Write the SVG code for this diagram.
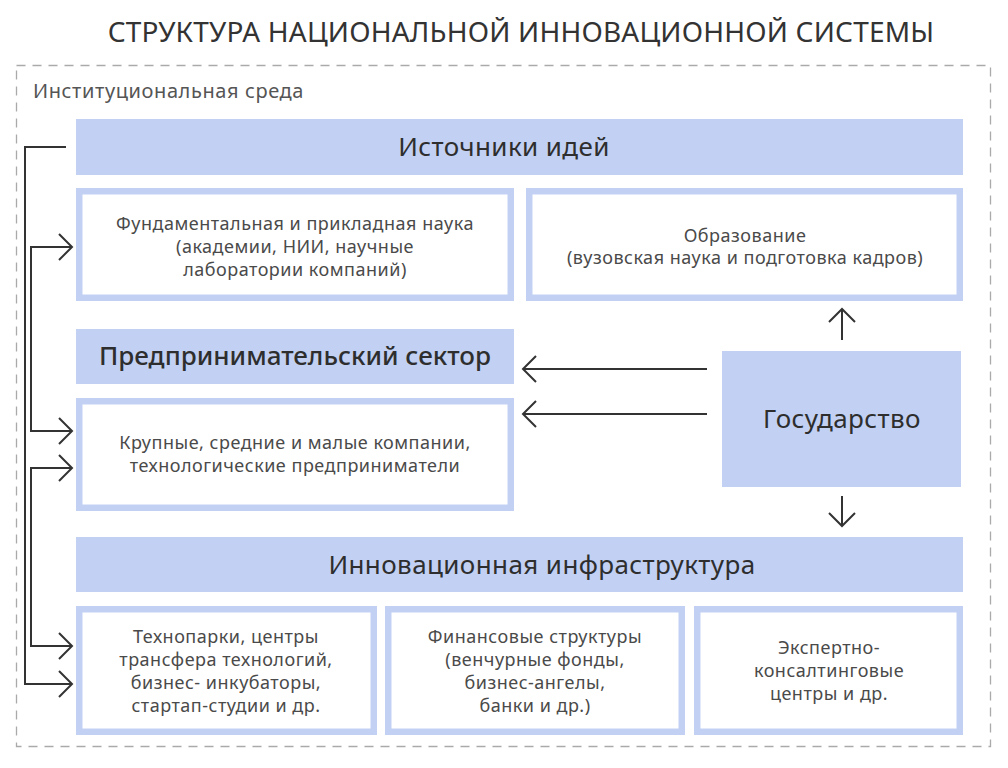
<svg xmlns="http://www.w3.org/2000/svg" width="1008" height="768" viewBox="0 0 1008 768">
<style>
text{font-family:"Noto Sans","Open Sans","Liberation Sans",sans-serif;fill:#333}
.t{font-size:28px;text-anchor:middle;letter-spacing:0.2px}
.h{font-size:26px;text-anchor:middle;fill:#2e2e2e;letter-spacing:0.4px}
.b{font-size:18px;text-anchor:middle;fill:#4a4a4a;letter-spacing:0.5px}
.env{font-size:20px;fill:#555;letter-spacing:0.6px}
.fill{fill:#c2d1f3}
.box{fill:#fff;stroke:#c2d1f3;stroke-width:6.5}
.ln{fill:none;stroke:#333;stroke-width:2}
</style>
<defs>
<marker id="ah" viewBox="0 0 16 30" refX="14" refY="15" markerWidth="16" markerHeight="30" markerUnits="userSpaceOnUse" orient="auto">
<path d="M1,2 L14,15 L1,28" fill="none" stroke="#333" stroke-width="2"/>
</marker>
</defs>
<rect width="1008" height="768" fill="#fff"/>
<text class="t" x="521" y="42">СТРУКТУРА НАЦИОНАЛЬНОЙ ИННОВАЦИОННОЙ СИСТЕМЫ</text>
<rect x="16.5" y="65.5" width="974" height="681" fill="none" stroke="#aaa" stroke-width="1.3" stroke-dasharray="9,7"/>
<text class="env" x="33" y="98">Институциональная среда</text>

<g id="ideas">
<rect class="fill" x="76" y="119" width="887" height="56"/>
<text class="h" x="504" y="156">Источники идей</text>
</g>
<g id="science">
<rect class="box" x="79.25" y="191.25" width="431.5" height="106.5"/>
<text class="b" x="295" y="230">Фундаментальная и прикладная наука</text>
<text class="b" x="295" y="253">(академии, НИИ, научные</text>
<text class="b" x="295" y="276">лаборатории компаний)</text>
</g>
<g id="education">
<rect class="box" x="529.25" y="191.25" width="430.5" height="106.5"/>
<text class="b" x="745" y="242">Образование</text>
<text class="b" x="745" y="264">(вузовская наука и подготовка кадров)</text>
</g>
<g id="business">
<rect class="fill" x="76" y="329" width="438" height="55"/>
<text class="h" x="295" y="365" font-weight="500" style="letter-spacing:0">Предпринимательский сектор</text>
</g>
<g id="companies">
<rect class="box" x="79.25" y="401.25" width="431.5" height="106.5"/>
<text class="b" x="295" y="449">Крупные, средние и малые компании,</text>
<text class="b" x="295" y="472">технологические предприниматели</text>
</g>
<g id="state">
<rect class="fill" x="722" y="351" width="239" height="136"/>
<text class="h" x="842" y="428">Государство</text>
</g>
<g id="infra">
<rect class="fill" x="76" y="537" width="887" height="55"/>
<text class="h" x="542" y="574">Инновационная инфраструктура</text>
</g>
<g id="technoparks">
<rect class="box" x="79.25" y="609.25" width="294.5" height="122.5"/>
<text class="b" x="226" y="643">Технопарки, центры</text>
<text class="b" x="226" y="666">трансфера технологий,</text>
<text class="b" x="226" y="689">бизнес- инкубаторы,</text>
<text class="b" x="226" y="712">стартап-студии и др.</text>
</g>
<g id="finance">
<rect class="box" x="388.25" y="609.25" width="293.5" height="122.5"/>
<text class="b" x="535" y="643">Финансовые структуры</text>
<text class="b" x="535" y="666">(венчурные фонды,</text>
<text class="b" x="535" y="689">бизнес-ангелы,</text>
<text class="b" x="535" y="712">банки и др.)</text>
</g>
<g id="experts">
<rect class="box" x="697.25" y="609.25" width="262.5" height="122.5"/>
<text class="b" x="829" y="654">Экспертно-</text>
<text class="b" x="829" y="677">консалтинговые</text>
<text class="b" x="829" y="700">центры и др.</text>
</g>

<g id="connectors">
<path class="ln" d="M66,147 H25 V684 H72" marker-end="url(#ah)"/>
<path class="ln" d="M72,247 H31 V431 H72" marker-end="url(#ah)"/>
<path class="ln" d="M31,247 H72" marker-end="url(#ah)"/>
<path class="ln" d="M72,468 H31 V646 H72" marker-end="url(#ah)"/>
<path class="ln" d="M31,468 H72" marker-end="url(#ah)"/>
<path class="ln" d="M707,369 H523" marker-end="url(#ah)"/>
<path class="ln" d="M707,414 H523" marker-end="url(#ah)"/>
<path class="ln" d="M842,340 V309" marker-end="url(#ah)"/>
<path class="ln" d="M842,496 V526" marker-end="url(#ah)"/>
</g>
</svg>
